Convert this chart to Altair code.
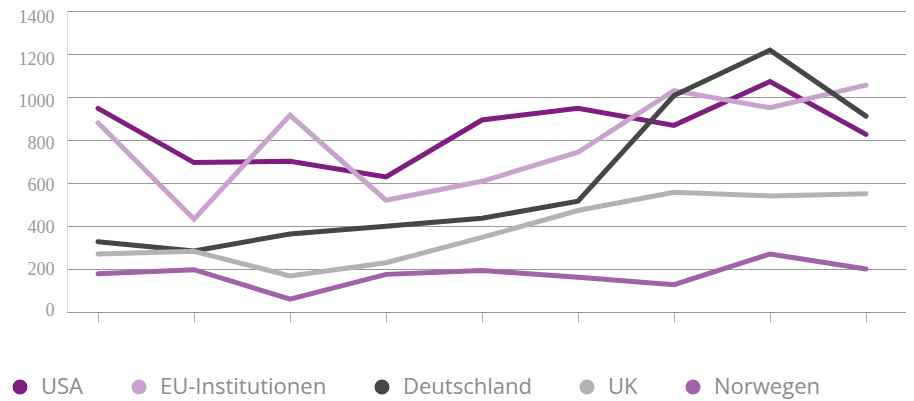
import altair as alt
import pandas as pd

points = [1, 2, 3, 4, 5, 6, 7, 8, 9]
series = ["USA", "EU-Institutionen", "Deutschland", "UK", "Norwegen"]
colors = ["#7f1d80", "#c9a3ce", "#464646", "#b3b3b3", "#a262a8"]
y_ticks = [0, 200, 400, 600, 800, 1000, 1200, 1400]

usa = [947, 695, 701, 628, 893, 948, 868, 1072, 826]
eu = [880, 432, 915, 520, 608, 743, 1030, 950, 1055]
de = [327, 284, 363, 399, 436, 515, 1007, 1218, 911]
uk = [270, 282, 168, 229, 347, 472, 557, 540, 550]
no = [178, 197, 60, 175, 193, 162, 127, 270, 200]

values = [usa, eu, de, uk, no]
rows = []
for s, vals in zip(series, values):
    for p, v in zip(points, vals):
        rows.append({"point": p, "value": v, "series": s})
df = pd.DataFrame(rows)

legend = alt.Legend(title=None, orient="none", direction="horizontal",
                    legendX=-58, legendY=365,
                    symbolType="circle", symbolSize=227,
                    symbolStrokeWidth=0, symbolOpacity=1,
                    labelFont="Open Sans", labelFontSize=22, labelLimit=400,
                    labelColor="#8c8c8c", labelOffset=10,
                    columnPadding=44)

x_scale = alt.Scale(domain=[0.677, 9.417], nice=False, zero=False)
x_axis = alt.Axis(values=points, labels=False, title=None, grid=False,
                  domain=True, ticks=True,
                  tickSize=10, tickColor="#b0b0b0", domainColor="#999999",
                  domainWidth=1.2)
color_enc = alt.Color("series:N", scale=alt.Scale(domain=series, range=colors),
                      sort=series, legend=legend)

base = alt.Chart(df)

# invisible layer carrying the y labels and the legend
pts = base.mark_point(filled=True, opacity=0, size=1).encode(
    x=alt.X("point:Q", scale=x_scale, axis=x_axis),
    y=alt.Y("value:Q",
            scale=alt.Scale(domain=[-4.8, 1430], nice=False, zero=False),
            axis=alt.Axis(values=y_ticks, format="d", title=None, grid=False,
                          domain=False, domainColor="transparent", ticks=False,
                          labelPadding=13,
                          labelFont="Liberation Serif", labelFontSize=18,
                          labelColor="#9a9a9a")),
    color=color_enc)

lines = base.mark_line(strokeWidth=5, strokeCap="round").encode(
    x=alt.X("point:Q", scale=x_scale, axis=x_axis),
    y=alt.Y("value:Q",
            scale=alt.Scale(domain=[0, 1400], nice=False),
            axis=alt.Axis(values=y_ticks, labels=False, title=None, grid=True,
                          gridColor="#999999", gridWidth=1, domain=False,
                          domainColor="transparent", ticks=False)),
    color=color_enc, order=alt.Order("point:Q"))

chart = alt.layer(pts, lines).resolve_scale(y="independent").resolve_axis(y="independent").properties(
    width=839, height=301,
    autosize=alt.AutoSizeParams(type="none"),
    padding={"left": 59, "top": 3, "right": 0, "bottom": 90},
).configure_view(strokeWidth=0, stroke="transparent").configure_axisY(
    domain=False, domainColor="transparent", tickColor="transparent"
).configure(background="white")

chart.save("out.html", embed_options={"renderer": "svg", "actions": False})
